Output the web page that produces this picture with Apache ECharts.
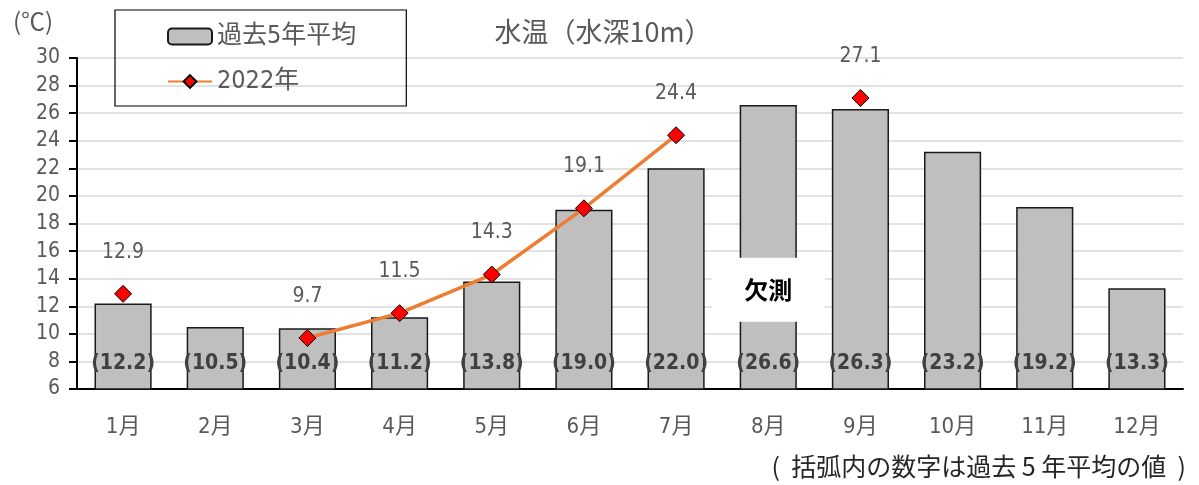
<!DOCTYPE html>
<html>
<head>
<meta charset="utf-8">
<script src="https://cdn.jsdelivr.net/npm/echarts@6/dist/echarts.min.js"></script>
<style>
  html, body { margin: 0; padding: 0; background: #fff; }
  #main { width: 1199px; height: 485px; }
</style>
</head>
<body>
<div id="main"></div>
<script>
// 月
const months = ['1月', '2月', '3月', '4月', '5月', '6月', '7月', '8月', '9月', '10月', '11月', '12月'];
// 過去5年平均
const avg5 = [12.2, 10.5, 10.4, 11.2, 13.8, 19.0, 22.0, 26.6, 26.3, 23.2, 19.2, 13.3];
// 2022年 (null = 欠測 / データなし)
const y2022 = [12.9, null, 9.7, 11.5, 14.3, 19.1, 24.4, null, 27.1, null, null, null];
const missingMonth = '8月';
const missingLabelAt = 13.2;

const narrow = "'Liberation Sans Narrow', 'DejaVu Sans Condensed', 'Noto Sans CJK JP', sans-serif";
const jp = "'Noto Sans CJK JP', sans-serif";

let myChart = echarts.init(document.getElementById('main'));

let option = {
    animation: false,
    title: [{
        text: '水温（水深10m）',
        left: 598,
        top: 13,
        textAlign: 'center',
        textStyle: { fontFamily: jp, fontSize: 27, fontWeight: 'normal', color: '#595959' }
    }, {
        text: '(℃)',
        left: 8,
        top: 4,
        textStyle: { fontFamily: jp, fontSize: 24, fontWeight: 'normal', color: '#595959' }
    }, {
        text: '(  括弧内の数字は過去 5 年平均の値  )',
        right: 8,
        top: 449,
        textStyle: { fontFamily: jp, fontSize: 25, fontWeight: 'normal', color: '#262626' }
    }],
    legend: {
        orient: 'vertical',
        left: 115,
        top: 10,
        padding: [14, 50, 12, 52],
        itemGap: 20,
        itemWidth: 44,
        itemHeight: 16,
        borderColor: '#000',
        borderWidth: 1.2,
        textStyle: { fontFamily: narrow, fontSize: 25, color: '#595959' },
        data: ['過去5年平均', '2022年']
    },
    grid: { left: 77, right: 16, top: 58, bottom: 96 },
    xAxis: {
        type: 'category',
        data: months,
        axisLine: { lineStyle: { color: '#000', width: 2 } },
        axisTick: { length: 8, lineStyle: { color: '#000', width: 2 } },
        axisLabel: { margin: 27, fontFamily: narrow, fontSize: 22, color: '#595959' }
    },
    yAxis: {
        type: 'value',
        min: 6,
        max: 30,
        interval: 2,
        axisLine: { show: true, lineStyle: { color: '#000', width: 2 } },
        axisTick: { show: true, length: 8, lineStyle: { color: '#000', width: 2 } },
        axisLabel: { margin: 17, fontFamily: narrow, fontSize: 21, color: '#595959' },
        splitLine: { lineStyle: { color: '#d9d9d9', width: 1.5 } }
    },
    series: [{
        name: '過去5年平均',
        type: 'bar',
        data: avg5,
        barWidth: '62%',
        itemStyle: { color: '#bfbfbf', borderColor: '#1a1a1a', borderWidth: 1.5 },
        label: {
            show: true,
            position: 'insideBottom',
            distance: 16,
            formatter: p => '(' + p.value.toFixed(1) + ')',
            fontFamily: narrow,
            fontWeight: 'bold',
            fontSize: 21,
            color: '#404040'
        },
        markPoint: {
            symbol: 'rect',
            symbolSize: [113, 64],
            itemStyle: { color: '#fff' },
            label: {
                show: true,
                formatter: '欠測',
                fontFamily: jp,
                fontWeight: 'bold',
                fontSize: 24,
                color: '#000'
            },
            data: [{ coord: [missingMonth, missingLabelAt] }]
        }
    }, {
        name: '2022年',
        type: 'line',
        data: y2022,
        connectNulls: false,
        symbol: 'diamond',
        symbolSize: 17,
        lineStyle: { color: '#ed7d31', width: 3.5 },
        itemStyle: { color: '#ff0000', borderColor: '#000', borderWidth: 1 },
        label: {
            show: true,
            position: 'top',
            distance: 22,
            formatter: p => p.value.toFixed(1),
            fontFamily: narrow,
            fontSize: 21,
            color: '#595959'
        },
        z: 5
    }]
};

myChart.setOption(option);
</script>
</body>
</html>
